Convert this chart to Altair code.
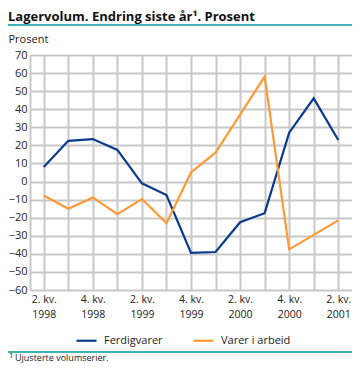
import altair as alt
import pandas as pd

quarters = ["2. kv.|1998", "3. kv.|1998", "4. kv.|1998", "1. kv.|1999", "2. kv.|1999",
            "3. kv.|1999", "4. kv.|1999", "1. kv.|2000", "2. kv.|2000", "3. kv.|2000",
            "4. kv.|2000", "1. kv.|2001", "2. kv.|2001"]
ferdigvarer = [8, 22.5, 23.5, 17.5, -1, -7.5, -39.5, -39, -22.5, -17.5, 27, 46, 23]
varer_i_arbeid = [-7.7, -15, -8.8, -18, -9.7, -23, 5, 16, 37, 58, -37.5, -29.5, -21.5]
series = ["Ferdigvarer", "Varer i arbeid"]
colors = ["#0a3a8c", "#ff9933"]
y_ticks = list(range(-60, 71, 10))

title_text = "Lagervolum. Endring siste år¹. Prosent"
footnote_text = "Ujusterte volumserier."

rows = []
for q, v in zip(quarters, ferdigvarer):
    rows.append({"kvartal": q, "serie": series[0], "verdi": v})
for q, v in zip(quarters, varer_i_arbeid):
    rows.append({"kvartal": q, "serie": series[1], "verdi": v})
df = pd.DataFrame(rows)

FONT = "Open Sans"
PL = 22
W, H = 344 - PL, 235

lines = alt.Chart(df).mark_line(strokeWidth=2.2).encode(
    x=alt.X("kvartal:N", sort=quarters, title=None,
            scale=alt.Scale(type="point", padding=0.56),
            axis=alt.Axis(labelExpr="indexof(['2','4'], substring(datum.label,0,1)) >= 0 ? split(datum.label, '|') : ''",
                          labelAngle=0, labelFontSize=10.5, labelLineHeight=15, labelColor="#222",
                          labelPadding=4, ticks=False, grid=True, gridColor="#c8c8c8", gridWidth=2,
                          domain=False, labelFont=FONT)),
    y=alt.Y("verdi:Q", scale=alt.Scale(domain=[-60, 70], nice=False, zero=False),
            axis=alt.Axis(values=y_ticks, title="Prosent", titleAngle=0, titleAlign="left",
                          titleBaseline="alphabetic", titleX=-PL, titleY=-13,
                          titleFontWeight="normal", titleFontSize=11, titleColor="#222",
                          titleFont=FONT, labelFont=FONT, labelFontSize=11, labelColor="#222",
                          ticks=False, labelPadding=3, grid=True, gridColor="#c8c8c8",
                          gridWidth=2, domain=True, domainColor="#c8c8c8", domainWidth=2)),
    color=alt.Color("serie:N", scale=alt.Scale(domain=series, range=colors), title=None,
                    legend=alt.Legend(orient="none", legendX=45, legendY=274, direction="horizontal",
                                      symbolType="stroke", symbolSize=400, symbolStrokeWidth=2.2,
                                      labelFont=FONT, labelFontSize=11, labelColor="#222",
                                      columnPadding=26, labelOffset=6)),
)

title = alt.Chart(pd.DataFrame({"t": [title_text]})).mark_text(
    align="left", baseline="alphabetic", fontSize=13, fontWeight="bold", font=FONT, color="#111"
).encode(x=alt.value(-PL), y=alt.value(-34), text="t:N")

top_rule = alt.Chart(pd.DataFrame({"a": [0]})).mark_rule(color="#009a9a", strokeWidth=1.5).encode(
    x=alt.value(-PL), x2=alt.value(W), y=alt.value(-30))
bottom_rule = alt.Chart(pd.DataFrame({"a": [0]})).mark_rule(color="#009a9a", strokeWidth=1.5).encode(
    x=alt.value(-PL), x2=alt.value(W), y=alt.value(297))

foot_sup = alt.Chart(pd.DataFrame({"t": ["1"]})).mark_text(
    align="left", baseline="alphabetic", fontSize=8, font=FONT, color="#222"
).encode(x=alt.value(-PL + 1), y=alt.value(303), text="t:N")
foot = alt.Chart(pd.DataFrame({"t": [footnote_text]})).mark_text(
    align="left", baseline="alphabetic", fontSize=9, font=FONT, color="#222"
).encode(x=alt.value(-PL + 7), y=alt.value(306), text="t:N")

chart = alt.layer(lines, title, top_rule, bottom_rule, foot_sup, foot).properties(
    width=W, height=H,
    autosize=alt.AutoSizeParams(type="none"),
    padding={"left": PL, "top": 47, "right": 0, "bottom": 73},
).configure_view(stroke=None)

chart.save("out.html", embed_options={"renderer": "svg", "actions": False})
